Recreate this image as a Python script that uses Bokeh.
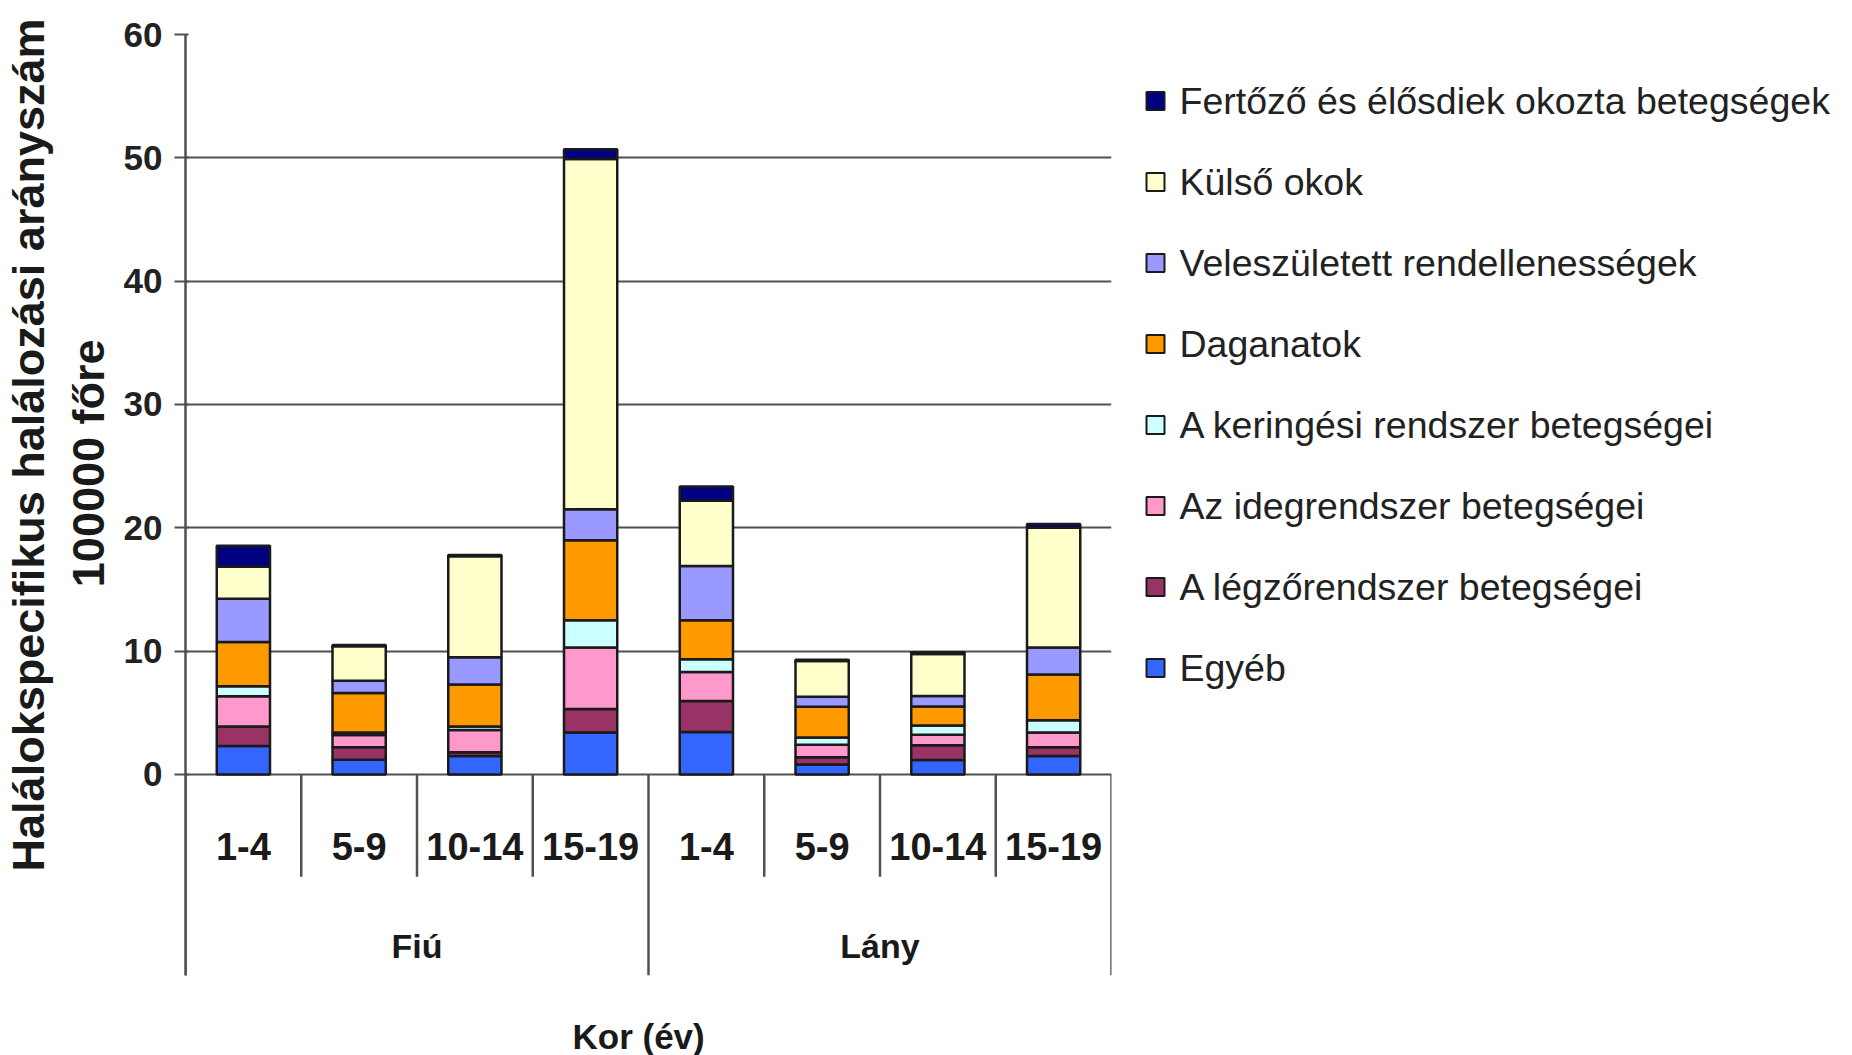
import math
from bokeh.plotting import figure
from bokeh.layouts import row
from bokeh.models import (ColumnDataSource, FactorRange, Range1d, FixedTicker, Title)
from bokeh.transform import dodge
from bokeh.core.properties import value
from bokeh.embed import file_html
from bokeh.resources import INLINE

# ---------------- data ----------------
groups = ["Fiú", "Lány"]
ages = ["1-4", "5-9", "10-14", "15-19"]

series_names = [
    "Egyéb",
    "A légzőrendszer betegségei",
    "Az idegrendszer betegségei",
    "A keringési rendszer betegségei",
    "Daganatok",
    "Veleszületett rendellenességek",
    "Külső okok",
    "Fertőző és élősdiek okozta betegségek",
]
series_colors = ["#3366FF", "#993366", "#FF99CC", "#CCFFFF",
                 "#FF9900", "#9999FF", "#FFFFCC", "#000080"]

# order: Fiú 1-4, 5-9, 10-14, 15-19, Lány 1-4, 5-9, 10-14, 15-19
egyeb   = [2.3, 1.2, 1.5, 3.4, 3.45, 0.8, 1.17, 1.5]
legzo   = [1.6, 1.0, 0.3, 1.9, 2.5, 0.6, 1.2, 0.7]
ideg    = [2.45, 1.0, 1.8, 5.0, 2.35, 1.0, 0.85, 1.2]
kering  = [0.8, 0.2, 0.3, 2.2, 1.05, 0.6, 0.75, 1.0]
dagan   = [3.6, 3.2, 3.4, 6.5, 3.15, 2.5, 1.55, 3.7]
velesz  = [3.5, 1.0, 2.2, 2.5, 4.4, 0.8, 0.85, 2.2]
kulso   = [2.6, 2.8, 8.2, 28.4, 5.3, 2.9, 3.4, 9.7]
fertozo = [1.7, 0.1, 0.1, 0.8, 1.15, 0.1, 0.15, 0.3]

y_ticks = [0, 10, 20, 30, 40, 50, 60]

y_title_1 = "Halálokspecifikus halálozási arányszám"
y_title_2 = "100000 főre"
x_title = "Kor (év)"

# ---------------- main figure ----------------
factors = [(g, a) for g in groups for a in ages]
keys = ["egyeb", "legzo", "ideg", "kering", "dagan", "velesz", "kulso", "fertozo"]
src = ColumnDataSource(dict(cat=factors, egyeb=egyeb, legzo=legzo, ideg=ideg,
                            kering=kering, dagan=dagan, velesz=velesz,
                            kulso=kulso, fertozo=fertozo,
                            age=[a for g in groups for a in ages]))

FONT = "Liberation Sans"
TXT = "#1a1a1a"
Y_BOTTOM = -16.3
H = 1055
W_MAIN = 1116
FRAME_TOP, FRAME_BOTTOM = 34, 975
p = figure(width=W_MAIN, height=H, title=None,
           x_range=FactorRange(*factors, group_padding=0, factor_padding=0,
                               subgroup_padding=0, range_padding=0),
           y_range=Range1d(Y_BOTTOM, 60),
           x_axis_location=None,
           output_backend="svg", toolbar_location=None,
           min_border_left=185, min_border_right=W_MAIN - 1111,
           min_border_top=FRAME_TOP, min_border_bottom=H - FRAME_BOTTOM)
p.outline_line_color = None
p.background_fill_color = "white"
p.border_fill_color = "white"
p.xgrid.grid_line_color = None

GRAY = "#505050"
p.ygrid.ticker = FixedTicker(ticks=y_ticks)
p.ygrid.grid_line_color = GRAY
p.ygrid.grid_line_width = 2

ax = p.yaxis[0]
ax.ticker = FixedTicker(ticks=y_ticks)
ax.axis_line_color = GRAY
ax.axis_line_width = 2.5
ax.major_tick_line_color = GRAY
ax.major_tick_line_width = 2
ax.major_tick_out = 11
ax.major_tick_in = 3
ax.minor_tick_line_color = None
ax.major_label_standoff = 12
ax.major_label_text_font = FONT
ax.major_label_text_font_style = "bold"
ax.major_label_text_font_size = "35px"
ax.major_label_text_color = "#222222"

renderers = p.vbar_stack(keys, x="cat", width=0.46, source=src,
                         fill_color=series_colors, line_color="#1a1a1a",
                         line_width=2.5)

# category separators
first_of_group = [a == ages[0] for g in groups for a in ages]
sep_src = ColumnDataSource(dict(cat=factors,
                                y1=[Y_BOTTOM if f else -8.3 for f in first_of_group]))
p.segment(x0=dodge("cat", -0.5, range=p.x_range), y0=0,
          x1=dodge("cat", -0.5, range=p.x_range), y1="y1",
          source=sep_src, line_color=GRAY, line_width=2.5)
end_src = ColumnDataSource(dict(cat=[factors[-1]], y1=[Y_BOTTOM]))
p.segment(x0=dodge("cat", 0.5, range=p.x_range), y0=0,
          x1=dodge("cat", 0.5, range=p.x_range), y1="y1",
          source=end_src, line_color=GRAY, line_width=2.5)

# category labels
p.text(x="cat", y=-5.84, text="age", source=src,
       text_font=value(FONT), text_font_style="bold",
       text_font_size="38px", text_align="center", text_baseline="middle",
       text_color=TXT)
grp_src = ColumnDataSource(dict(g=groups))
p.text(x="g", y=-13.87, text="g", source=grp_src,
       text_font=value(FONT), text_font_style="bold",
       text_font_size="34px", text_align="center", text_baseline="middle",
       text_color=TXT)

# y title on two lines
t2 = Title(text=y_title_2, align="right", offset=305, standoff=14,
           text_font=FONT, text_font_style="bold", text_font_size="45px",
           text_color=TXT)
t1 = Title(text=y_title_1, align="right", offset=-16, standoff=0,
           text_font=FONT, text_font_style="bold", text_font_size="45px",
           text_color=TXT)
p.add_layout(t2, "left")
p.add_layout(t1, "left")

# x title below (a blank first line pushes it down to the reference position)
tx = Title(text=" \n" + x_title, align="left", offset=387, standoff=0,
           text_font=FONT, text_font_style="bold", text_font_size="35px",
           text_line_height=1.0, text_color=TXT)
p.add_layout(tx, "below")

# ---------------- legend figure ----------------
W_LEG = 720
leg = figure(width=W_LEG, height=H, title=None,
             x_range=Range1d(0, W_LEG), y_range=Range1d(FRAME_BOTTOM, FRAME_TOP),
             x_axis_location=None, y_axis_location=None,
             output_backend="svg", toolbar_location=None,
             min_border=0, min_border_left=0, min_border_right=0,
             min_border_top=FRAME_TOP, min_border_bottom=H - FRAME_BOTTOM)
leg.outline_line_color = None
leg.xgrid.grid_line_color = None
leg.ygrid.grid_line_color = None

order = list(reversed(range(len(series_names))))
ROW0, PITCH = 100.5, 81.0
leg_src = ColumnDataSource(dict(
    name=[series_names[i] for i in order],
    color=[series_colors[i] for i in order],
    y=[ROW0 + PITCH * k for k in range(len(order))],
))
leg.rect(x=39, y="y", width=18, height=18, width_units="screen",
         height_units="screen", fill_color="color", line_color="#1a1a1a",
         line_width=2, source=leg_src)
leg.text(x=63, y="y", text="name", source=leg_src,
         text_font=value(FONT), text_font_size="37.5px",
         text_align="left", text_baseline="middle", text_color="#222222")

layout = row(p, leg, spacing=0)
open("out.html", "w").write(file_html(layout, INLINE))
